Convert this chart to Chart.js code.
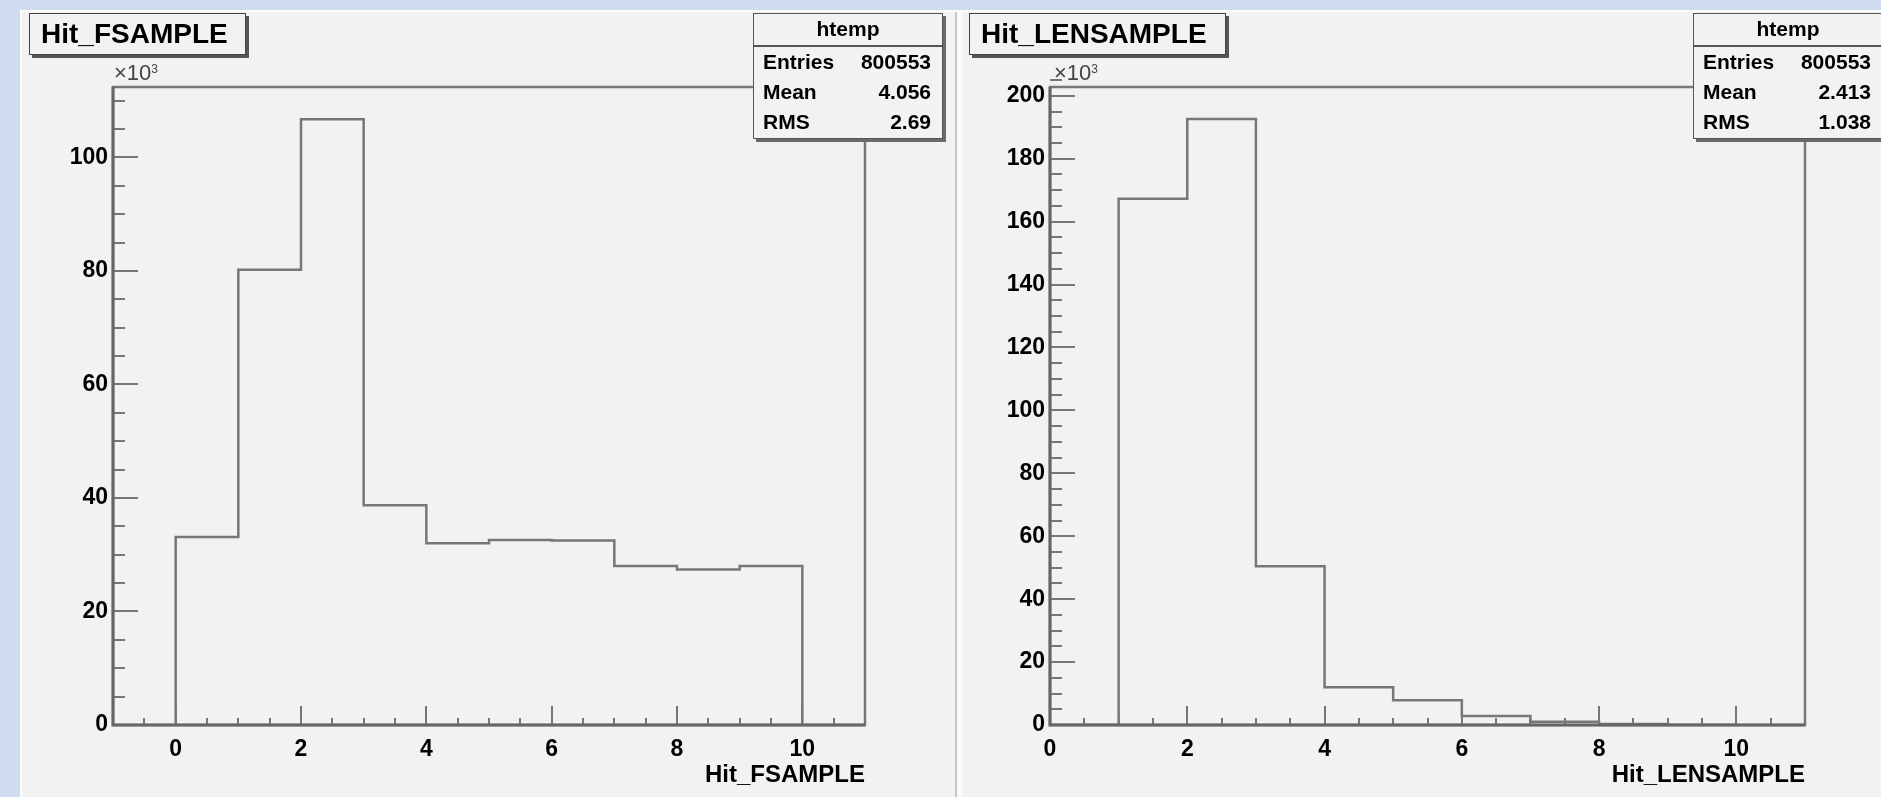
<!DOCTYPE html>
<html>
<head>
<meta charset="utf-8">
<script src="https://cdn.jsdelivr.net/npm/chart.js@4.4.0/dist/chart.umd.min.js"></script>
<style>
    body { margin: 0; width: 1881px; height: 797px; overflow: hidden; background: #cfdcf0; position: relative; font-family: 'Liberation Sans', Arial, sans-serif; }
    .sheet { position: absolute; left: 20px; top: 10px; width: 1861px; height: 787px; background: #fbfbfb; }
    .pad { position: absolute; top: 12px; height: 785px; background: #f2f2f2; }
    #padLeft { left: 22px; width: 933px; border-right: 2px solid #c6c6c6; }
    #padRight { left: 962px; width: 919px; }
    canvas { position: absolute; top: 0; }
    .title { position: absolute; top: 13px; height: 40px; border: 1.5px solid #444; box-shadow: 3px 3px 0 #555; background: #f2f2f2;
             font-weight: bold; font-size: 28px; line-height: 40px; padding-left: 11px; box-sizing: content-box; color: #000; }
    .stats { position: absolute; top: 13px; width: 188px; border: 1.5px solid #555; box-shadow: 3px 3px 0 #6a6a6a; background: #f2f2f2; font-weight: bold; font-size: 21px; color: #000; }
    .stats .head { text-align: center; height: 31px; line-height: 30px; border-bottom: 2px solid #555; }
    .stats .row { height: 30px; line-height: 30px; padding: 0 11px 0 9px; display: flex; justify-content: space-between; }
    .stats .row:last-child { height: 31px; }
    .mult { position: absolute; top: 60px; font-size: 22px; color: #444; }
    .mult sup { font-size: 12px; position: relative; top: 1px; }
</style>
</head>
<body>
<div class="sheet"></div>
<div class="pad" id="padLeft"></div>
<div class="pad" id="padRight"></div>
<canvas id="FSample" width="940" height="797" style="left:0px"></canvas>
<canvas id="LenSample" width="940" height="797" style="left:940px"></canvas>
<div id="overlay"></div>

<script>
// bin low edges (width 1)
const binLowEdges = [0, 1, 2, 3, 4, 5, 6, 7, 8, 9];
// counts in units of 10^3
const fsampleCounts = [33.1, 80.2, 106.7, 38.7, 32.0, 32.6, 32.5, 28.0, 27.4, 28.0];
const lensampleCounts = [0, 167.3, 192.6, 50.5, 12.0, 7.9, 2.9, 1.0, 0.3, 0];

const xTickLabels = [0, 2, 4, 6, 8, 10];
const fsampleYTicks = [0, 20, 40, 60, 80, 100];
const lensampleYTicks = [0, 20, 40, 60, 80, 100, 120, 140, 160, 180, 200];

const statNames = ['Entries', 'Mean', 'RMS'];
const fsampleStats = ['800553', '4.056', '2.69'];
const lensampleStats = ['800553', '2.413', '1.038'];

const FONT = "'Liberation Sans', Arial, sans-serif";
const LINE = '#777777';

// histogram outline as step points: each point holds the bin content up to its x
function histPoints(edges, counts) {
    const pts = [{ x: edges[0], y: 0 }];
    edges.forEach((e, i) => pts.push({ x: e + 1, y: counts[i] }));
    pts.push({ x: edges[edges.length - 1] + 1, y: 0 });
    return pts;
}

// ROOT style frame and inward ticks
const rootFrame = {
    id: 'rootFrame',
    afterDraw(chart, args, opts) {
        const { ctx, chartArea: a, scales: { x, y } } = chart;
        ctx.save();
        ctx.strokeStyle = LINE;
        ctx.lineWidth = 2;
        ctx.beginPath();
        const nx = Math.round((x.max - x.min) / opts.xMinor);
        for (let i = 0; i <= nx; i++) {
            const v = x.min + i * opts.xMinor;
            const isMajor = Math.abs(v / opts.xMajor - Math.round(v / opts.xMajor)) < 1e-6;
            const px = Math.round(x.getPixelForValue(v));
            ctx.moveTo(px, a.bottom);
            ctx.lineTo(px, a.bottom - (isMajor ? 19 : 7));
        }
        const ny = Math.round((y.max - y.min) / opts.yMinor);
        for (let i = 0; i <= ny; i++) {
            const v = y.min + i * opts.yMinor;
            const isMajor = Math.abs(v / opts.yMajor - Math.round(v / opts.yMajor)) < 1e-6;
            const py = Math.round(y.getPixelForValue(v));
            ctx.moveTo(a.left, py);
            ctx.lineTo(a.left + (isMajor ? 25 : 12), py);
        }
        ctx.stroke();
        ctx.lineWidth = 2.5;
        ctx.strokeRect(a.left, a.top, a.right - a.left, a.bottom - a.top);
        ctx.strokeStyle = '#666';
        ctx.lineWidth = 3;
        ctx.beginPath();
        ctx.moveTo(a.left, a.top);
        ctx.lineTo(a.left, a.bottom);
        ctx.lineTo(a.right, a.bottom);
        ctx.stroke();
        ctx.restore();
    }
};

function createHistChart(ctxId, counts, xRange, yMax, yTicks, yAxisWidth, title) {
    const ctx = document.getElementById(ctxId).getContext('2d');
    return new Chart(ctx, {
        type: 'line',
        data: {
            datasets: [{
                data: histPoints(binLowEdges, counts),
                stepped: 'after',
                borderColor: LINE,
                borderWidth: 2.5,
                pointRadius: 0,
                fill: false
            }]
        },
        options: {
            responsive: false,
            animation: false,
            layout: { padding: { left: 0, top: 87, right: 75, bottom: 0 } },
            plugins: {
                legend: { display: false },
                tooltip: { enabled: false },
                rootFrame: { xMinor: 0.5, xMajor: 2, yMinor: 5, yMajor: 20 }
            },
            scales: {
                x: {
                    type: 'linear',
                    min: xRange[0],
                    max: xRange[1],
                    grid: { display: false, drawTicks: false },
                    border: { display: false },
                    afterBuildTicks: (scale) => { scale.ticks = xTickLabels.map(v => ({ value: v })); },
                    afterFit: (scale) => { scale.height = 72; },
                    ticks: {
                        autoSkip: false,
                        maxRotation: 0,
                        padding: 11,
                        color: '#000',
                        font: { family: FONT, size: 23, weight: 'bold' }
                    },
                    title: {
                        display: true,
                        text: title,
                        align: 'end',
                        color: '#000',
                        padding: { top: 0, bottom: 7 },
                        font: { family: FONT, size: 24, weight: 'bold' }
                    }
                },
                y: {
                    min: 0,
                    max: yMax,
                    grid: { display: false, drawTicks: false },
                    border: { display: false },
                    afterBuildTicks: (scale) => { scale.ticks = yTicks.map(v => ({ value: v })); },
                    afterFit: (scale) => { scale.width = yAxisWidth; },
                    ticks: {
                        autoSkip: false,
                        padding: 5,
                        color: '#000',
                        font: { family: FONT, size: 23, weight: 'bold' }
                    }
                }
            }
        },
        plugins: [rootFrame]
    });
}

// title box, stats box and exponent label for one pad
function addPadText(offsetX, title, titleWidth, stats) {
    const overlay = document.getElementById('overlay');
    const t = document.createElement('div');
    t.className = 'title';
    t.style.left = (offsetX + 29) + 'px';
    t.style.width = titleWidth + 'px';
    t.textContent = title;
    overlay.appendChild(t);

    const s = document.createElement('div');
    s.className = 'stats';
    s.style.left = (offsetX + 753) + 'px';
    let html = '<div class="head">htemp</div>';
    statNames.forEach((name, i) => {
        html += `<div class="row"><span>${name}</span><span>${stats[i]}</span></div>`;
    });
    s.innerHTML = html;
    overlay.appendChild(s);

    const m = document.createElement('div');
    m.className = 'mult';
    m.style.left = (offsetX + 114) + 'px';
    m.innerHTML = '×10<sup>3</sup>';
    overlay.appendChild(m);
}

createHistChart('FSample', fsampleCounts, [-1, 11], 112.4, fsampleYTicks, 113, 'Hit_FSAMPLE');
createHistChart('LenSample', lensampleCounts, [0, 11], 202.8, lensampleYTicks, 110, 'Hit_LENSAMPLE');

addPadText(0, 'Hit_FSAMPLE', 204, fsampleStats);
addPadText(940, 'Hit_LENSAMPLE', 244, lensampleStats);
</script>
</body>
</html>
